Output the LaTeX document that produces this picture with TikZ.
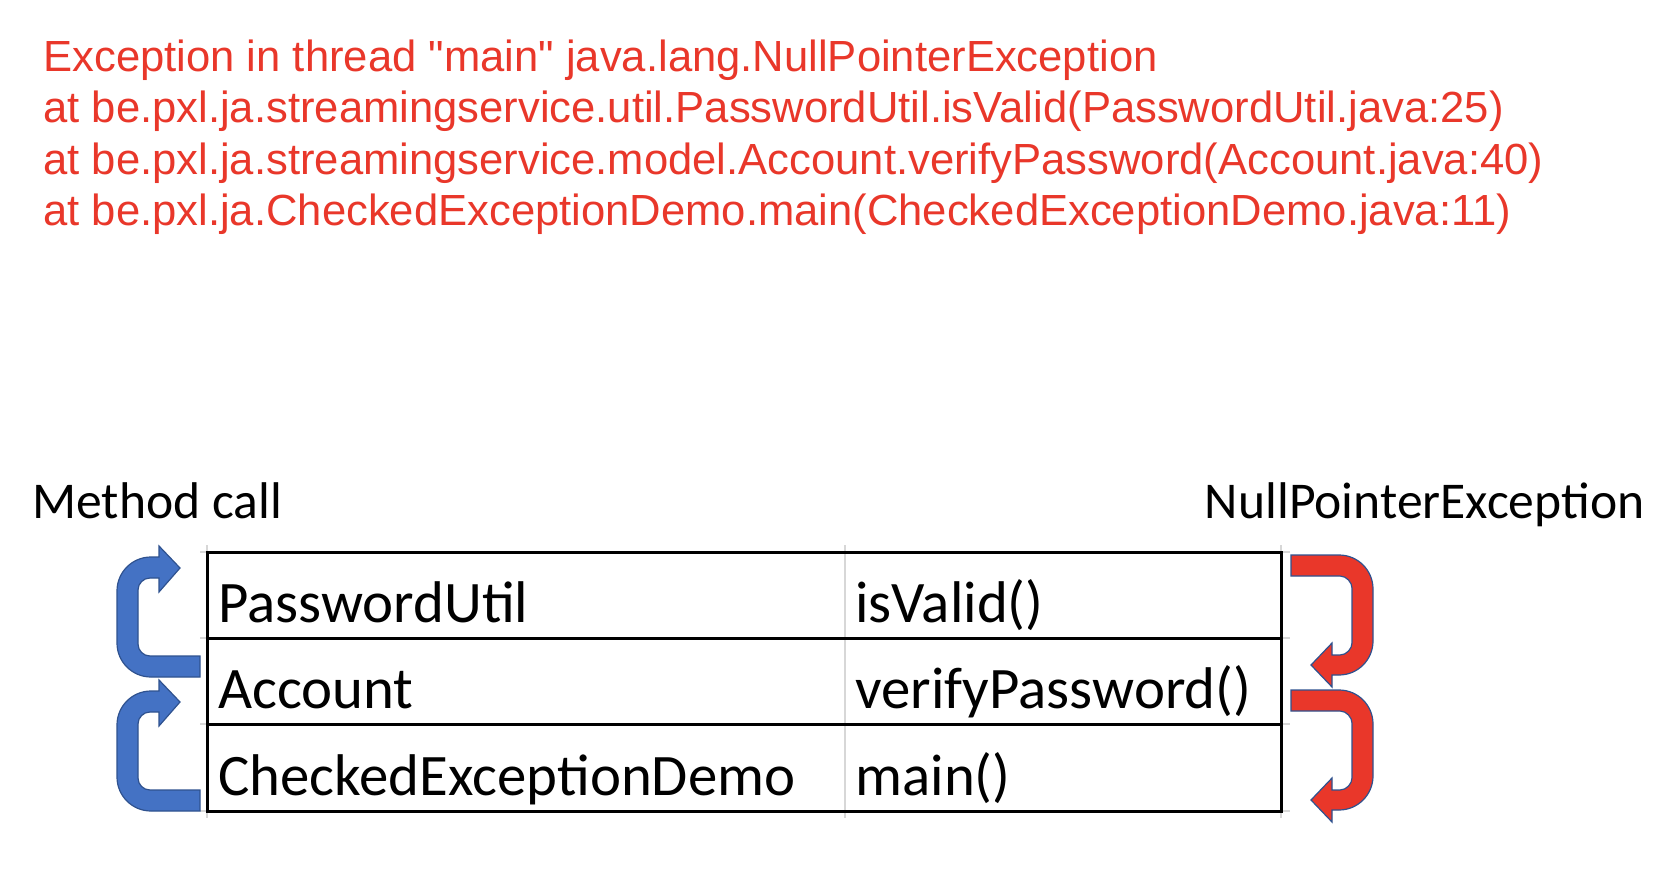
\documentclass[tikz,border=0pt]{standalone}
\usepackage{fontspec}
\newfontfamily\arialf{Liberation Sans}
\newfontfamily\calib{Carlito}
\definecolor{errred}{RGB}{233,55,42}
\definecolor{arrblue}{RGB}{68,114,196}
\definecolor{arredge}{RGB}{47,82,143}
\definecolor{gridgrey}{RGB}{215,215,215}
\tikzset{
  errline/.style={anchor=base west,inner sep=0pt,text=errred,font=\arialf\fontsize{21.8pt}{26pt}\selectfont},
  hdr/.style={inner sep=0pt,font=\calib\fontsize{25.8pt}{30pt}\selectfont},
  cell/.style={anchor=base west,inner sep=0pt,font=\calib\fontsize{29.4pt}{34pt}\selectfont},
  tblline/.style={line width=1.5pt,black},
  gridl/.style={line width=0.8pt,gridgrey},
  bluearr/.style={fill=arrblue,draw=arredge,line width=0.6pt},
  redarr/.style={fill=errred,draw=arredge,line width=0.6pt},
  callarrow/.pic={
    \path[bluearr] (200,656) -- (150,656) .. controls (143.4,656) and (138,650.6) .. (138,644)
      -- (138,590) .. controls (138,583.4) and (143.4,578) .. (150,578)
      -- (159,578) -- (159,592) -- (180,568) -- (159,546) -- (159,557)
      -- (151,557) .. controls (132.2,557) and (117,572.2) .. (117,591)
      -- (117,643) .. controls (117,661.8) and (132.2,677) .. (151,677)
      -- (200,677) -- cycle;
  },
  excarrow/.pic={
    \path[redarr] (1291,555) -- (1339,555) .. controls (1357.8,555) and (1373,570.2) .. (1373,589)
      -- (1373,641) .. controls (1373,659.8) and (1357.8,675) .. (1339,675)
      -- (1332,675) -- (1332,687) -- (1311,665) -- (1332,643) -- (1332,655)
      -- (1340,655) .. controls (1346.6,655) and (1352,648.6) .. (1352,643)
      -- (1352,588) .. controls (1352,582.6) and (1346.6,576) .. (1340,576)
      -- (1291,576) -- cycle;
  }
}
\begin{document}
\begin{tikzpicture}[x=0.5pt,y=-0.5pt]
\useasboundingbox[fill=white] (0,0) rectangle (1680,888);
% stack trace
\node[errline] (l1) at (43,72) {Exception in thread "main" java.lang.NullPointerException};
\node[errline] (l2) at (43,123) {at be.pxl.ja.streamingservice.util.PasswordUtil.isValid(PasswordUtil.java:25)};
\node[errline] (l3) at (43,174) {at be.pxl.ja.streamingservice.model.Account.verifyPassword(Account.java:40)};
\node[errline] (l4) at (43,225) {at be.pxl.ja.CheckedExceptionDemo.main(CheckedExceptionDemo.java:11)};
% headers
\node[hdr,anchor=base west] (mc) at (32,518) {Method call};
\node[hdr,anchor=base east] (npe) at (1645,518) {NullPointerException};
% grid lines
\foreach \gx in {207,845,1281} \draw[gridl] (\gx,545) -- (\gx,818);
\foreach \gy in {552,638,724,811} \draw[gridl] (200,\gy) -- (1290,\gy);
% table borders
\draw[tblline] (207,552) rectangle (1281,811);
\draw[tblline] (207,638) -- (1281,638);
\draw[tblline] (207,724) -- (1281,724);
% cells
\node[cell] (c11) at (218,622) {PasswordUtil};
\node[cell] (c12) at (855,622) {isValid()};
\node[cell] (c21) at (218,708) {Account};
\node[cell] (c22) at (855,708) {verifyPassword()};
\node[cell] (c31) at (218,795) {CheckedExceptionDemo};
\node[cell] (c32) at (855,795) {main()};
% arrows
\pic at (0,0) {callarrow};
\pic at (0,134) {callarrow};
\pic at (0,0) {excarrow};
\pic at (0,135) {excarrow};
\end{tikzpicture}
\end{document}
